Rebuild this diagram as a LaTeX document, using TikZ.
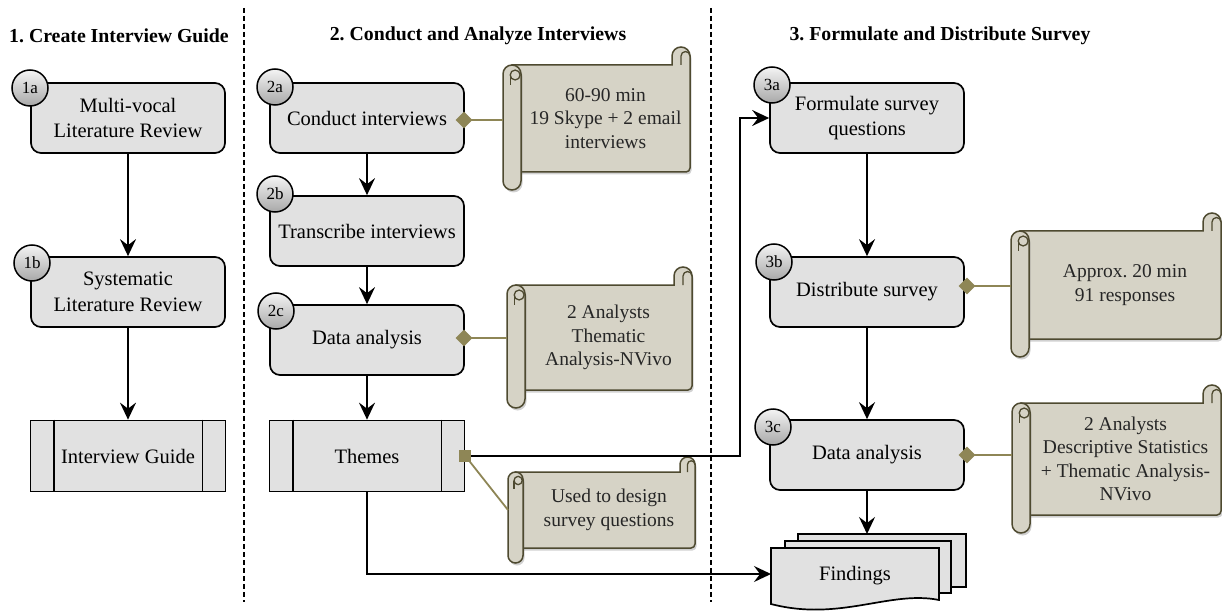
\documentclass[tikz,border=0pt]{standalone}
\usepackage{fontspec}
\setmainfont{Liberation Serif}
\usetikzlibrary{arrows.meta,shadows,shapes.geometric,calc}
\frenchspacing

\definecolor{boxfill}{HTML}{E1E1E1}
\definecolor{scrollfill}{HTML}{D6D3C6}
\definecolor{scrolledge}{HTML}{4E4A30}
\definecolor{olivec}{HTML}{8E8656}
\definecolor{circtop}{HTML}{F4F4F4}
\definecolor{circbot}{HTML}{A8A8A8}

\newcommand\bodyfont{\fontsize{20.5}{25.5}\selectfont}
\newcommand\scrollfont{\fontsize{19.5}{23.5}\selectfont}
\newcommand\titlefont{\fontsize{19.8}{22}\selectfont\bfseries}
\newcommand\numfont{\fontsize{17}{19}\selectfont}

\tikzset{
  procbox/.style={draw=black, line width=1.7pt, fill=boxfill, rounded corners=10pt,
    minimum width=194pt, minimum height=70pt, align=center, font=\bodyfont, inner sep=2pt},
  predef/.style={draw=black, line width=1.7pt, fill=boxfill,
    minimum width=195pt, minimum height=71pt, align=center, font=\bodyfont, inner sep=2pt},
  stepnum/.style={circle, draw=black, line width=1.5pt, top color=circtop, bottom color=circbot,
    minimum size=36pt, inner sep=0pt, font=\numfont},
  titletext/.style={font=\titlefont, inner sep=0pt},
  arr/.style={-{Stealth[length=17pt,width=16pt,inset=6pt]}, line width=1.7pt},
  sepline/.style={line width=1.6pt, dash pattern=on 5pt off 3pt},
  oliveline/.style={draw=olivec, line width=1.8pt},
  diamk/.style={diamond, fill=olivec, minimum size=17pt, inner sep=0pt},
  sqmark/.style={rectangle, fill=olivec, minimum size=12pt, inner sep=0pt},
  scrollbody/.style={fill=scrollfill, draw=scrolledge, line width=1.5pt,
    drop shadow={shadow xshift=1.5pt, shadow yshift=-2.5pt, opacity=.3, fill=black!60}},
  scrollcurl/.style={draw=scrolledge, line width=1.3pt},
  scrolltext/.style={font=\scrollfont, align=center, text=black!85, inner sep=0pt},
  docpart/.style={draw=black, line width=1.7pt, fill=boxfill},
}

\newcommand\drawscroll[7]{%
  \begin{scope}
    \pgfmathsetmacro\scL{#2}%
    \pgfmathsetmacro\scT{#3}%
    \pgfmathsetmacro\scR{#4}%
    \pgfmathsetmacro\scB{#5}%
    \pgfmathsetmacro\scD{#6}%
    \pgfmathsetmacro\scr{#6/2}%
    \filldraw[scrollbody] ({\scL+\scr},{\scT+\scD}) -- ({\scR-\scD},{\scT+\scD})
      -- ({\scR-\scD},{\scT+\scr}) arc[start angle=180,end angle=360,radius=\scr]
      -- ({\scR},{\scB-\scD-4}) arc[start angle=0,end angle=90,radius=4]
      -- ({\scL+\scr},{\scB-\scD}) -- cycle;
    \draw[scrollcurl] ({\scR-\scr},{\scT+\scD}) -- ({\scR-\scr},{\scT+\scr})
      arc[start angle=180,end angle=360,radius=\scr/2];
    \filldraw[scrollbody] ({\scL},{\scT+\scD+\scr}) arc[start angle=180,end angle=360,radius=\scr]
      -- ({\scL+\scD},{\scB-\scr}) arc[start angle=0,end angle=180,radius=\scr] -- cycle;
    \draw[scrollcurl] ({\scL+\scr+\scr*0.35},{\scT+\scD+\scr+1}) circle[radius=\scr*0.55];
    \draw[scrollcurl] ({\scL+\scr-\scr*0.2},{\scT+\scD+\scr+1}) -- ({\scL+\scr-\scr*0.2},{\scT+\scD+\scD+2});
    \node[scrolltext] (#1) at ({(\scL+\scD+\scR)/2},{(\scT+\scB)/2}) {#7};
    \coordinate (#1-w) at ({\scL},{(\scT+\scB)/2});
  \end{scope}}

\begin{document}
\begin{tikzpicture}[x=1pt,y=-1pt]
\useasboundingbox (0,0) rectangle (1222,612);

% titles
\node[titletext] (t1) at (119,36) {1. Create Interview Guide};
\node[titletext] (t2) at (478,36) {2. Conduct and Analyze Interviews};
\node[titletext] (t3) at (940,36) {3. Formulate and Distribute Survey};

% separators
\draw[sepline] (244,8) -- (244,602);
\draw[sepline] (711,8) -- (711,602);

% scrolls
\drawscroll{c2a}{503}{47}{690}{190}{18}{60-90 min\\19 Skype + 2 email\\interviews}
\drawscroll{c2c}{507}{267}{692}{408}{18}{2 Analysts\\Thematic\\Analysis-NVivo}
\drawscroll{cuse}{508}{457}{695}{563}{15}{Used to design\\survey questions}
\drawscroll{c3b}{1011}{213}{1221}{357}{18}{Approx. 20 min\\91 responses}
\drawscroll{c3c}{1012}{385}{1221}{533}{18}{2 Analysts\\Descriptive Statistics\\+ Thematic Analysis-\\NVivo}

% process boxes
\node[procbox] (s1a) at (128,118) {Multi-vocal\\Literature Review};
\node[procbox] (s1b) at (128,292) {Systematic\\Literature Review};
\node[predef] (guide) at (128,456) {Interview Guide};
\node[procbox] (s2a) at (367,118) {Conduct interviews};
\node[procbox] (s2b) at (367,231) {Transcribe interviews};
\node[procbox] (s2c) at (367,340) {Data analysis};
\node[predef] (themes) at (367,456) {Themes};
\node[procbox] (s3a) at (867,118) {Formulate survey\\questions};
\node[procbox] (s3b) at (867,292) {Distribute survey};
\node[procbox] (s3c) at (867,455) {Data analysis};

\foreach \b in {guide,themes}{
  \draw[line width=1.7pt] ([xshift=24pt]\b.north west) -- ([xshift=24pt]\b.south west);
  \draw[line width=1.7pt] ([xshift=-24pt]\b.north east) -- ([xshift=-24pt]\b.south east);
}

% findings document stack
\filldraw[docpart] (798,534) -- (966,534) -- (966,587) -- (798,587) -- cycle;
\filldraw[docpart] (785,541) -- (951,541) -- (951,593) -- (785,593) -- cycle;
\filldraw[docpart] (771,548) -- (939,548) -- (939,600) .. controls (890,590) and (840,622) .. (771,604) -- cycle;
\node[font=\bodyfont] (findings) at (855,576) {Findings};
\coordinate (findings-w) at (771,574);
\coordinate (findings-n) at (867,534);

% step numbers
\node[stepnum] (n1a) at (30,88) {1a};
\node[stepnum] (n1b) at (32,263) {1b};
\node[stepnum] (n2a) at (275,87) {2a};
\node[stepnum] (n2b) at (275,194) {2b};
\node[stepnum] (n2c) at (276,311) {2c};
\node[stepnum] (n3a) at (772,85) {3a};
\node[stepnum] (n3b) at (774,262) {3b};
\node[stepnum] (n3c) at (773,427) {3c};

% flow arrows
\draw[arr] (s1a) -- (s1b);
\draw[arr] (s1b) -- (guide);
\draw[arr] (s2a) -- (s2b);
\draw[arr] (s2b) -- (s2c);
\draw[arr] (s2c) -- (themes);
\draw[arr] (s3a) -- (s3b);
\draw[arr] (s3b) -- (s3c);
\draw[arr] (s3c.south) -- (findings-n);
\coordinate (bendx) at (740,0);
\draw[arr] (themes.east) -| (bendx |- s3a.west) -- (s3a.west);
\draw[arr] (themes.south) |- (findings-w);

% annotation connectors
\coordinate (p2a) at (464,120);
\coordinate (p2c) at (464,338);
\coordinate (p3b) at (967,286);
\coordinate (p3c) at (967,455);
\draw[oliveline] (p2a) -- (p2a -| c2a-w);
\draw[oliveline] (p2c) -- (p2c -| c2c-w);
\draw[oliveline] (p3b) -- (p3b -| c3b-w);
\draw[oliveline] (p3c) -- (p3c -| c3c-w);
\draw[oliveline] (themes.east) -- (cuse-w);
\node[diamk] (d2a) at (p2a) {};
\node[diamk] (d2c) at (p2c) {};
\node[diamk] (d3b) at (p3b) {};
\node[diamk] (d3c) at (p3c) {};
\node[sqmark] (mth) at (themes.east) {};
\end{tikzpicture}
\end{document}
